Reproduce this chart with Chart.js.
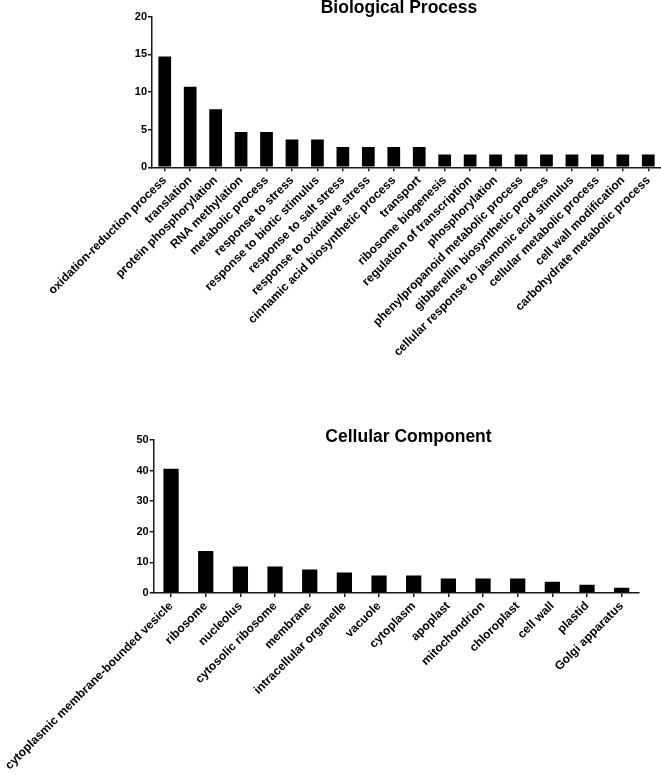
<!DOCTYPE html>
<html>
<head>
<meta charset="utf-8">
<script src="https://cdn.jsdelivr.net/npm/chart.js@4.4.0/dist/chart.umd.min.js"></script>
<style>
    html, body { margin: 0; padding: 0; background: #fff; }
    #wrap { position: relative; width: 661px; height: 775px; }
    .box { position: absolute; left: 0; width: 661px; }
</style>
</head>
<body>
<div id="wrap">
    <div class="box" style="top:0;height:420px"><canvas id="bp"></canvas></div>
    <div class="box" style="top:420px;height:355px"><canvas id="cc"></canvas></div>
</div>
<script>
// ------------------------------------------------------------------
// Data
// ------------------------------------------------------------------
var BP_LABELS = [
    'oxidation-reduction process', 'translation', 'protein phosphorylation',
    'RNA methylation', 'metabolic process', 'response to stress',
    'response to biotic stimulus', 'response to salt stress',
    'response to oxidative stress', 'cinnamic acid biosynthetic process',
    'transport', 'ribosome biogenesis', 'regulation of transcription',
    'phosphorylation', 'phenylpropanoid metabolic process',
    'gibberellin biosynthetic process', 'cellular response to jasmonic acid stimulus',
    'cellular metabolic process', 'cell wall modification',
    'carbohydrate metabolic process'
];
var BP_VALUES = [14.7, 10.7, 7.7, 4.7, 4.7, 3.7, 3.7, 2.7, 2.7, 2.7,
                 2.7, 1.7, 1.7, 1.7, 1.7, 1.7, 1.7, 1.7, 1.7, 1.7];
var BP_MAX = 20, BP_STEP = 5;

var CC_LABELS = [
    'cytoplasmic membrane-bounded vesicle', 'ribosome', 'nucleolus',
    'cytosolic ribosome', 'membrane', 'intracellular organelle', 'vacuole',
    'cytoplasm', 'apoplast', 'mitochondrion', 'chloroplast', 'cell wall',
    'plastid', 'Golgi apparatus'
];
var CC_VALUES = [40.6, 13.7, 8.7, 8.7, 7.7, 6.7, 5.7, 5.7, 4.7, 4.7, 4.7, 3.7, 2.7, 1.7];
var CC_MAX = 50, CC_STEP = 10;

var FONT = '"Liberation Sans", Arial, sans-serif';
var INK = '#1a1a1a';

// title drawn at a fixed spot, like the original figure
var panelTitle = {
    id: 'panelTitle',
    afterDraw: function (chart, args, opts) {
        var ctx = chart.ctx;
        ctx.save();
        ctx.font = 'bold 17.5px ' + FONT;
        ctx.fillStyle = '#000';
        ctx.textAlign = 'center';
        ctx.textBaseline = 'alphabetic';
        ctx.fillText(opts.text, opts.x, opts.y);
        ctx.restore();
    }
};

function makeChart(id, labels, values, max, step, o) {
    return new Chart(document.getElementById(id), {
        type: 'bar',
        data: {
            labels: labels,
            datasets: [{
                data: values,
                backgroundColor: '#000',
                borderWidth: 0,
                barPercentage: o.barPct,
                categoryPercentage: 1
            }]
        },
        plugins: [panelTitle],
        options: {
            responsive: true,
            maintainAspectRatio: false,
            animation: false,
            layout: { padding: { top: o.top, right: o.right, left: 0, bottom: 0 } },
            plugins: {
                legend: { display: false },
                tooltip: { enabled: false },
                panelTitle: { text: o.title, x: o.titleX, y: o.titleY }
            },
            scales: {
                x: {
                    grid: { drawOnChartArea: false, offset: false, tickLength: 4, color: INK, lineWidth: 1.5 },
                    border: { color: INK, width: 1.5 },
                    ticks: {
                        autoSkip: false, minRotation: 45, maxRotation: 45, padding: 2,
                        color: '#000', font: { family: FONT, size: 12, weight: 'bold' }
                    },
                    afterFit: function (s) { s.height = o.xHeight; }
                },
                y: {
                    min: 0, max: max,
                    grid: { drawOnChartArea: false, tickLength: 4, color: INK, lineWidth: 1.5 },
                    border: { color: INK, width: 1.5 },
                    ticks: {
                        stepSize: step, padding: 1,
                        color: '#000', font: { family: FONT, size: 11, weight: 'bold' }
                    },
                    afterFit: function (s) { s.width = 152; }
                }
            }
        }
    });
}

makeChart('bp', BP_LABELS, BP_VALUES, BP_MAX, BP_STEP, {
    barPct: 0.5, top: 16.7, right: 0, xHeight: 252.7,
    title: 'Biological Process', titleX: 399, titleY: 13.3
});
makeChart('cc', CC_LABELS, CC_VALUES, CC_MAX, CC_STEP, {
    barPct: 0.44, top: 20, right: 22, xHeight: 182,
    title: 'Cellular Component', titleX: 408.5, titleY: 21.7
});
</script>
</body>
</html>
